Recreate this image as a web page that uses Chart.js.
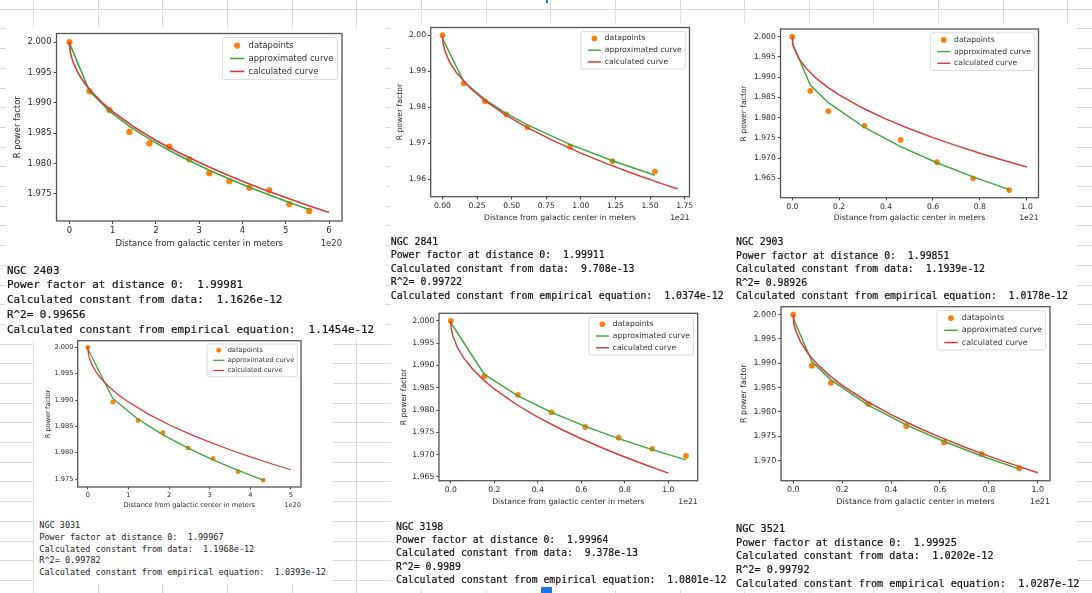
<!DOCTYPE html>
<html>
<head>
<script src="https://cdn.jsdelivr.net/npm/chart.js"></script>
<style>
  body { margin: 0; background: #fff; }
  #page { position: relative; width: 1092px; height: 593px; overflow: hidden; background: #fff; }
  #grid { position: absolute; left: 0; top: 0; }
  .sheet { position: absolute; background: #fff; }
  .plot { position: absolute; }
  .out { position: absolute; margin: 0; white-space: pre; font-family: "DejaVu Sans Mono", monospace; color: #111; -webkit-text-stroke: 0.2px #111; }
  .out.small { color: #222; -webkit-text-stroke: 0; }
  .sel { position: absolute; background: #1a73e8; }
</style>
</head>
<body>
<div id="page">
  <canvas id="grid" width="1092" height="593"></canvas>
  <div class="sheet" style="left:6px;top:27px;width:379px;height:314px"></div>
  <div class="sheet" style="left:34px;top:340px;width:299px;height:244px"></div>
  <div class="sheet" style="left:390px;top:23px;width:687px;height:280px"></div>
  <div class="sheet" style="left:391px;top:303px;width:686px;height:287px"></div>
  <div class="sel" style="left:546px;top:0;width:2px;height:3px"></div>
  <div class="sel" style="left:541px;top:587px;width:11px;height:6px"></div>

  <canvas class="plot" id="c2403"></canvas>
  <canvas class="plot" id="c2841"></canvas>
  <canvas class="plot" id="c2903"></canvas>
  <canvas class="plot" id="c3031"></canvas>
  <canvas class="plot" id="c3198"></canvas>
  <canvas class="plot" id="c3521"></canvas>

<pre class="out" style="left:7px;top:263.6px;font-size:10.9px;line-height:14.8px">NGC 2403
Power factor at distance 0:  1.99981
Calculated constant from data:  1.1626e-12
R^2= 0.99656
Calculated constant from empirical equation:  1.1454e-12</pre>
<pre class="out" style="left:390.7px;top:235px;font-size:9.9px;line-height:13.4px">NGC 2841
Power factor at distance 0:  1.99911
Calculated constant from data:  9.708e-13
R^2= 0.99722
Calculated constant from empirical equation:  1.0374e-12</pre>
<pre class="out" style="left:736px;top:235.3px;font-size:9.85px;line-height:13.4px">NGC 2903
Power factor at distance 0:  1.99851
Calculated constant from data:  1.1939e-12
R^2= 0.98926
Calculated constant from empirical equation:  1.0178e-12</pre>
<pre class="out small" style="left:39.3px;top:520px;font-size:8.5px;line-height:11.75px">NGC 3031
Power factor at distance 0:  1.99967
Calculated constant from data:  1.1968e-12
R^2= 0.99782
Calculated constant from empirical equation:  1.0393e-12</pre>
<pre class="out" style="left:396px;top:520.1px;font-size:9.8px;line-height:13.15px">NGC 3198
Power factor at distance 0:  1.99964
Calculated constant from data:  9.378e-13
R^2= 0.9989
Calculated constant from empirical equation:  1.0801e-12</pre>
<pre class="out" style="left:736px;top:521.9px;font-size:10.2px;line-height:13.65px">NGC 3521
Power factor at distance 0:  1.99925
Calculated constant from data:  1.0202e-12
R^2= 0.99792
Calculated constant from empirical equation:  1.0287e-12</pre>
</div>
<script>
// NGC 2403 (distance in 1e20 m)
const ngc2403X = [0, 0.462, 0.924, 1.386, 1.848, 2.31, 2.772, 3.234, 3.696, 4.158, 4.62, 5.082, 5.544];
const ngc2403Points = [2.0000, 1.9919, 1.9888, 1.9852, 1.9833, 1.9828, 1.9807, 1.9784, 1.9771, 1.9760, 1.9756, 1.9733, 1.9722];
const ngc2403Approx = [1.99981, 1.99191, 1.98864, 1.98612, 1.98401, 1.98214, 1.98045, 1.97890, 1.97746, 1.97610, 1.97482, 1.97360, 1.97244];
const ngc2403CalcX = [0, 0.005, 0.02, 0.05, 0.1, 0.2, 0.35, 0.5, 0.75, 1, 1.5, 2, 2.5, 3, 3.5, 4, 4.5, 5, 5.5, 6];
const ngc2403Calc = [2, 1.99919, 1.99838, 1.99744, 1.99638, 1.99488, 1.99322, 1.99190, 1.99008, 1.98855, 1.98597, 1.98380, 1.98189, 1.98016, 1.97857, 1.97709, 1.97570, 1.97439, 1.97314, 1.97194];
const ngc2403XTicks = [0, 1, 2, 3, 4, 5, 6];
const ngc2403YTicks = [1.975, 1.980, 1.985, 1.990, 1.995, 2.000];

// NGC 2841 (1e21 m)
const ngc2841X = [0, 0.1535, 0.307, 0.4605, 0.614, 0.921, 1.228, 1.535];
const ngc2841Points = [2.0000, 1.9866, 1.9816, 1.9780, 1.9744, 1.9690, 1.9650, 1.9621];
const ngc2841Approx = [1.99911, 1.98708, 1.98210, 1.97828, 1.97505, 1.96965, 1.96509, 1.96107];
const ngc2841CalcX = [0, 0.001, 0.005, 0.02, 0.05, 0.1, 0.2, 0.3, 0.45, 0.6, 0.8, 1.0, 1.2, 1.4, 1.6, 1.7];
const ngc2841Calc = [2, 1.99896, 1.99768, 1.99536, 1.99266, 1.98963, 1.98533, 1.98203, 1.97799, 1.97459, 1.97066, 1.96719, 1.96406, 1.96119, 1.95850, 1.95723];
const ngc2841XTicks = [0, 0.25, 0.5, 0.75, 1.0, 1.25, 1.5, 1.75];
const ngc2841YTicks = [1.96, 1.97, 1.98, 1.99, 2.00];

// NGC 2903 (1e21 m)
const ngc2903X = [0, 0.077, 0.154, 0.308, 0.462, 0.617, 0.771, 0.925];
const ngc2903Points = [2.0000, 1.9866, 1.9816, 1.9780, 1.9745, 1.9690, 1.9650, 1.9621];
const ngc2903Approx = [1.99851, 1.98803, 1.98369, 1.97756, 1.97285, 1.96885, 1.96536, 1.96220];
const ngc2903CalcX = [0, 0.001, 0.003, 0.01, 0.03, 0.06, 0.1, 0.15, 0.2, 0.3, 0.4, 0.5, 0.6, 0.7, 0.8, 0.9, 1.0];
const ngc2903Calc = [2, 1.99898, 1.99824, 1.99678, 1.99443, 1.99212, 1.98982, 1.98753, 1.98561, 1.98237, 1.97964, 1.97724, 1.97507, 1.97307, 1.97121, 1.96947, 1.96781];
const ngc2903XTicks = [0, 0.2, 0.4, 0.6, 0.8, 1.0];
const ngc2903YTicks = [1.965, 1.970, 1.975, 1.980, 1.985, 1.990, 1.995, 2.000];

// NGC 3031 (1e20 m)
const ngc3031X = [0, 0.617, 1.234, 1.851, 2.468, 3.085, 3.702, 4.319];
const ngc3031Points = [2.0000, 1.9896, 1.9861, 1.9838, 1.9809, 1.9789, 1.9764, 1.9748];
const ngc3031Approx = [1.99967, 1.99027, 1.98637, 1.98339, 1.98087, 1.97865, 1.97664, 1.97480];
const ngc3031CalcX = [0, 0.005, 0.02, 0.05, 0.1, 0.2, 0.35, 0.5, 0.75, 1, 1.5, 2, 2.5, 3, 3.5, 4, 4.5, 5];
const ngc3031Calc = [2, 1.99927, 1.99853, 1.99768, 1.99671, 1.99535, 1.99385, 1.99265, 1.99100, 1.98961, 1.98727, 1.98530, 1.98357, 1.98200, 1.98056, 1.97921, 1.97795, 1.97676];
const ngc3031XTicks = [0, 1, 2, 3, 4, 5];
const ngc3031YTicks = [1.975, 1.980, 1.985, 1.990, 1.995, 2.000];

// NGC 3198 (1e21 m)
const ngc3198X = [0, 0.1544, 0.309, 0.463, 0.618, 0.772, 0.926, 1.081];
const ngc3198Points = [2.0000, 1.9876, 1.9834, 1.9795, 1.9762, 1.9738, 1.9713, 1.9697];
const ngc3198Approx = [1.99964, 1.98799, 1.98315, 1.97946, 1.97633, 1.97358, 1.97110, 1.96881];
const ngc3198CalcX = [0, 0.001, 0.003, 0.01, 0.03, 0.06, 0.1, 0.15, 0.2, 0.3, 0.4, 0.5, 0.6, 0.7, 0.8, 0.9, 1.0];
const ngc3198Calc = [2, 1.99892, 1.99813, 1.99658, 1.99408, 1.99163, 1.98920, 1.98677, 1.98473, 1.98129, 1.97840, 1.97585, 1.97354, 1.97142, 1.96945, 1.96760, 1.96584];
const ngc3198XTicks = [0, 0.2, 0.4, 0.6, 0.8, 1.0];
const ngc3198YTicks = [1.965, 1.970, 1.975, 1.980, 1.985, 1.990, 1.995, 2.000];

// NGC 3521 (1e21 m)
const ngc3521X = [0, 0.077, 0.154, 0.308, 0.462, 0.617, 0.771, 0.925];
const ngc3521Points = [2.0000, 1.9895, 1.9860, 1.9816, 1.9771, 1.9737, 1.9713, 1.9684];
const ngc3521Approx = [1.99925, 1.99030, 1.98659, 1.98134, 1.97732, 1.97391, 1.97092, 1.96822];
const ngc3521CalcX = [0, 0.001, 0.003, 0.01, 0.03, 0.06, 0.1, 0.15, 0.2, 0.3, 0.4, 0.5, 0.6, 0.7, 0.8, 0.9, 1.0];
const ngc3521Calc = [2, 1.99897, 1.99822, 1.99675, 1.99437, 1.99203, 1.98971, 1.98740, 1.98545, 1.98218, 1.97942, 1.97700, 1.97480, 1.97278, 1.97090, 1.96914, 1.96747];
const ngc3521XTicks = [0, 0.2, 0.4, 0.6, 0.8, 1.0];
const ngc3521YTicks = [1.970, 1.975, 1.980, 1.985, 1.990, 1.995, 2.000];

// spreadsheet grid behind the pasted images
const g = document.getElementById('grid').getContext('2d');
g.strokeStyle = '#dadada';
g.lineWidth = 1;
for (let k = 0; k < 17; k++) {
  const x = Math.round(33 + 64.65 * k) + 0.5;
  g.beginPath(); g.moveTo(x, 0); g.lineTo(x, 593); g.stroke();
}
for (let k = 0; k < 31; k++) {
  const y = Math.round(8.7 + 19.7 * k) + 0.5;
  g.beginPath(); g.moveTo(0, y); g.lineTo(1092, y); g.stroke();
}

Chart.defaults.font.family = '"DejaVu Sans", sans-serif';

// matplotlib look: box frame, inset legend, offset text
const mplPlugin = {
  id: 'mpl',
  afterDatasetsDraw(chart, args, o) {
    const ctx = chart.ctx, a = chart.chartArea, fs = o.fs;
    const sets = chart.data.datasets;
    ctx.save();
    ctx.font = fs + 'px "DejaVu Sans"';
    const w = Math.max(...sets.map(d => ctx.measureText(d.label).width)) + 3.55 * fs;
    const h = 4.93 * fs;
    const x0 = a.right - 0.55 * fs - w, y0 = a.top + 0.5 * fs;
    ctx.beginPath();
    ctx.roundRect(x0, y0, w, h, 0.25 * fs);
    ctx.fillStyle = 'rgba(255,255,255,0.85)';
    ctx.fill();
    ctx.strokeStyle = '#d0d0d0';
    ctx.lineWidth = 0.8;
    ctx.stroke();
    sets.forEach((d, i) => {
      const y = y0 + 0.93 * fs + i * 1.53 * fs;
      const hx = x0 + 0.9 * fs, hw = 1.7 * fs;
      if (d.showLine) {
        ctx.strokeStyle = d.borderColor;
        ctx.lineWidth = d.borderWidth;
        ctx.beginPath(); ctx.moveTo(hx, y); ctx.lineTo(hx + hw, y); ctx.stroke();
      } else {
        ctx.fillStyle = d.backgroundColor;
        ctx.beginPath(); ctx.arc(hx + hw / 2, y, d.pointRadius, 0, Math.PI * 2); ctx.fill();
      }
      ctx.fillStyle = '#333';
      ctx.textAlign = 'left';
      ctx.textBaseline = 'middle';
      ctx.fillText(d.label, x0 + 3.1 * fs, y);
    });
    ctx.strokeStyle = '#555';
    ctx.lineWidth = 1.3;
    ctx.strokeRect(a.left, a.top, a.width, a.height);
    ctx.fillStyle = '#333';
    ctx.textAlign = 'right';
    ctx.textBaseline = 'middle';
    ctx.fillText(o.offset, a.right, a.bottom + 2.72 * fs);
    ctx.restore();
  }
};

function pts(xs, ys) {
  return xs.map((x, i) => ({ x: x, y: ys[i] }));
}

function drawPlot(p) {
  const fs = p.fs;
  const yW = (p.yt + 0.6) * fs;
  const xH = 3.32 * fs;
  const left = Math.floor(p.L - yW) - 2;
  const top = Math.floor(p.T - 0.6 * fs - 6);
  const width = Math.ceil(p.R - left + 1.8 * fs);
  const height = Math.ceil(p.B - top + xH + 2);
  const cv = document.getElementById(p.id);
  cv.width = width; cv.height = height;
  cv.style.left = left + 'px'; cv.style.top = top + 'px';
  const lw = 0.19 * fs;
  const axis = (ticks, dec, min, max, label, fit) => ({
    type: 'linear', min: min, max: max,
    afterBuildTicks: s => { s.ticks = ticks.map(v => ({ value: v })); },
    afterFit: fit,
    ticks: { callback: v => Number(v).toFixed(dec), font: { size: fs }, color: '#2a2a2a', padding: 2, maxRotation: 0, autoSkip: false },
    grid: { display: true, drawOnChartArea: false, drawTicks: true, tickLength: 0.35 * fs, tickColor: '#444', tickWidth: 1 },
    border: { display: false },
    title: { display: true, text: label, font: { size: fs }, color: '#2a2a2a', padding: 0 }
  });
  new Chart(cv, {
    type: 'scatter',
    data: {
      datasets: [
        { label: 'datapoints', data: pts(p.x, p.points), backgroundColor: '#ff7f0e', pointRadius: 0.37 * fs, pointBorderWidth: 0, order: 3 },
        { label: 'approximated curve', data: pts(p.x, p.approx), showLine: true, borderColor: '#3da83d', borderWidth: lw, pointRadius: 0, order: 2 },
        { label: 'calculated curve', data: pts(p.calcX, p.calc), showLine: true, borderColor: '#dc3a3a', borderWidth: lw, pointRadius: 0, order: 1 }
      ]
    },
    options: {
      responsive: false,
      animation: false,
      devicePixelRatio: 1,
      layout: { padding: { left: p.L - yW - left, top: p.T - top, right: width - (p.R - left), bottom: height - (p.B - top) - xH } },
      plugins: { legend: { display: false }, tooltip: { enabled: false }, mpl: { fs: fs, offset: p.offset } },
      scales: {
        x: axis(p.xTicks, p.xDec, p.xMin, p.xMax, 'Distance from galactic center in meters', s => { s.height = xH; }),
        y: axis(p.yTicks, p.yDec, p.yMin, p.yMax, 'R power factor', s => { s.width = yW; })
      }
    },
    plugins: [mplPlugin]
  });
}

drawPlot({ id: 'c2403', L: 56.5, T: 33.5, R: 342, B: 221, fs: 8.45, yt: 4.6,
  x: ngc2403X, points: ngc2403Points, approx: ngc2403Approx, calcX: ngc2403CalcX, calc: ngc2403Calc,
  xTicks: ngc2403XTicks, yTicks: ngc2403YTicks, xDec: 0, yDec: 3,
  xMin: -0.3, xMax: 6.3, yMin: 1.97054, yMax: 2.0014, offset: '1e20' });
drawPlot({ id: 'c2841', L: 430.7, T: 27.5, R: 689.5, B: 196.7, fs: 7.67, yt: 4.0,
  x: ngc2841X, points: ngc2841Points, approx: ngc2841Approx, calcX: ngc2841CalcX, calc: ngc2841Calc,
  xTicks: ngc2841XTicks, yTicks: ngc2841YTicks, xDec: 2, yDec: 2,
  xMin: -0.085, xMax: 1.785, yMin: 1.95509, yMax: 2.00214, offset: '1e21' });
drawPlot({ id: 'c2903', L: 780.5, T: 29, R: 1038.5, B: 197.7, fs: 7.64, yt: 4.8,
  x: ngc2903X, points: ngc2903Points, approx: ngc2903Approx, calcX: ngc2903CalcX, calc: ngc2903Calc,
  xTicks: ngc2903XTicks, yTicks: ngc2903YTicks, xDec: 1, yDec: 3,
  xMin: -0.05, xMax: 1.05, yMin: 1.96022, yMax: 2.00189, offset: '1e21' });
drawPlot({ id: 'c3031', L: 77.7, T: 340.7, R: 301, B: 487, fs: 6.63, yt: 4.5,
  x: ngc3031X, points: ngc3031Points, approx: ngc3031Approx, calcX: ngc3031CalcX, calc: ngc3031Calc,
  xTicks: ngc3031XTicks, yTicks: ngc3031YTicks, xDec: 0, yDec: 3,
  xMin: -0.25, xMax: 5.25, yMin: 1.97349, yMax: 2.00126, offset: '1e20' });
drawPlot({ id: 'c3198', L: 439, T: 313.3, R: 697.7, B: 480.7, fs: 7.68, yt: 4.5,
  x: ngc3198X, points: ngc3198Points, approx: ngc3198Approx, calcX: ngc3198CalcX, calc: ngc3198Calc,
  xTicks: ngc3198XTicks, yTicks: ngc3198YTicks, xDec: 1, yDec: 3,
  xMin: -0.05405, xMax: 1.13505, yMin: 1.96413, yMax: 2.00171, offset: '1e21' });
drawPlot({ id: 'c3521', L: 781, T: 306.7, R: 1050, B: 480.7, fs: 7.98, yt: 4.65,
  x: ngc3521X, points: ngc3521Points, approx: ngc3521Approx, calcX: ngc3521CalcX, calc: ngc3521Calc,
  xTicks: ngc3521XTicks, yTicks: ngc3521YTicks, xDec: 1, yDec: 3,
  xMin: -0.05, xMax: 1.05, yMin: 1.96584, yMax: 2.00163, offset: '1e21' });
</script>
</body>
</html>
